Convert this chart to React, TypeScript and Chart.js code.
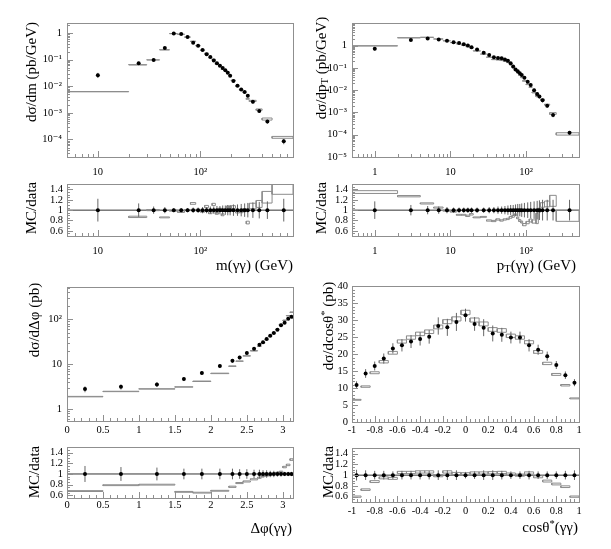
import { useEffect, useRef } from 'react';
import Chart from 'chart.js/auto';

const SERIF = '"Liberation Serif", "DejaVu Serif", serif';

// ---- m(γγ) ----
const massEdges = [5, 20, 30, 40, 50, 60, 70, 80, 90, 100, 110, 120, 130, 140, 150, 160, 170, 180, 190, 200, 220, 240, 260, 280, 300, 350, 400, 500, 800];
const massX = [10, 25, 35, 45, 55, 65, 75, 85, 95, 105, 115, 125, 135, 145, 155, 165, 175, 185, 195, 210, 230, 250, 270, 290, 325, 375, 450, 650];
const massData = [0.026, 0.073, 0.097, 0.27, 0.95, 0.92, 0.70, 0.43, 0.33, 0.23, 0.16, 0.125, 0.092, 0.072, 0.058, 0.048, 0.040, 0.032, 0.0245, 0.0156, 0.0105, 0.0075, 0.006, 0.0044, 0.0026, 0.00118, 0.00047, 0.000085];
const massDataErr = [0.22, 0.13, 0.07, 0.06, 0.04, 0.04, 0.04, 0.05, 0.05, 0.06, 0.06, 0.07, 0.07, 0.08, 0.08, 0.09, 0.09, 0.1, 0.1, 0.11, 0.11, 0.12, 0.13, 0.14, 0.15, 0.16, 0.17, 0.22];
const massMcRatio = [0.24, 0.87, 1.0, 0.86, 0.99, 0.97, 1.0, 1.13, 1.0, 0.98, 1.07, 0.95, 1.11, 0.94, 1.02, 0.91, 1.0, 1.06, 1.05, 1.06, 0.97, 0.98, 1.0, 0.76, 1.08, 1.12, 1.25, 1.42];
const massMcErr = [0.01, 0.015, 0.01, 0.01, 0.01, 0.015, 0.01, 0.015, 0.015, 0.02, 0.02, 0.02, 0.02, 0.02, 0.02, 0.02, 0.02, 0.02, 0.025, 0.025, 0.025, 0.03, 0.03, 0.035, 0.05, 0.06, 0.09, 0.08];

// ---- pT(γγ) ----
const ptEdges = [0.5, 2, 4, 6, 8, 10, 12, 14, 16, 18, 20, 25, 30, 35, 40, 45, 50, 55, 60, 65, 70, 75, 80, 85, 90, 100, 110, 120, 135, 145, 155, 175, 205, 250, 500];
const ptX = [1, 3, 5, 7, 9, 11, 13, 15, 17, 19, 22.5, 27.5, 32.5, 37.5, 42.5, 47.5, 52.5, 57.5, 62.5, 67.5, 72.5, 77.5, 82.5, 87.5, 95, 105, 115, 127.5, 140, 150, 165, 190, 227, 375];
const ptData = [0.72, 1.76, 2.08, 1.88, 1.65, 1.40, 1.31, 1.14, 1.0, 0.85, 0.67, 0.48, 0.38, 0.30, 0.28, 0.27, 0.24, 0.21, 0.16, 0.115, 0.085, 0.07, 0.058, 0.048, 0.036, 0.024, 0.017, 0.010, 0.0068, 0.0052, 0.0035, 0.0020, 0.00076, 0.000123];
const ptDataErr = [0.17, 0.1, 0.08, 0.07, 0.06, 0.05, 0.05, 0.05, 0.05, 0.05, 0.05, 0.05, 0.06, 0.06, 0.07, 0.07, 0.08, 0.09, 0.1, 0.1, 0.11, 0.12, 0.12, 0.13, 0.14, 0.15, 0.16, 0.17, 0.18, 0.19, 0.2, 0.2, 0.2, 0.2];
const ptMcRatio = [1.35, 1.27, 1.13, 1.05, 0.99, 0.97, 0.91, 0.91, 0.89, 0.92, 0.86, 0.87, 0.80, 0.79, 0.82, 0.80, 0.82, 0.83, 0.86, 0.88, 0.91, 0.85, 0.80, 0.77, 0.72, 0.76, 0.80, 0.78, 0.84, 1.0, 1.1, 1.12, 1.18, 0.89];
const ptMcErr = [0.02, 0.01, 0.01, 0.01, 0.01, 0.01, 0.01, 0.01, 0.015, 0.015, 0.01, 0.01, 0.015, 0.015, 0.015, 0.015, 0.015, 0.015, 0.02, 0.02, 0.02, 0.02, 0.025, 0.025, 0.03, 0.03, 0.035, 0.04, 0.12, 0.04, 0.04, 0.05, 0.09, 0.12];

// ---- Δφ(γγ) ----
const dphiEdges = [0, 0.5, 1.0, 1.5, 1.75, 2.0, 2.25, 2.35, 2.45, 2.55, 2.65, 2.7, 2.75, 2.8, 2.85, 2.9, 2.95, 3.0, 3.05, 3.1, 3.1416];
const dphiX = [0.25, 0.75, 1.25, 1.625, 1.875, 2.125, 2.3, 2.4, 2.5, 2.6, 2.675, 2.725, 2.775, 2.825, 2.875, 2.925, 2.975, 3.025, 3.075, 3.12];
const dphiData = [2.78, 3.12, 3.51, 4.67, 6.4, 9.1, 11.9, 14.1, 17.8, 22.1, 27.1, 31, 36.6, 43, 49.5, 58.5, 74, 84.6, 103, 114];
const dphiDataErr = [0.15, 0.13, 0.12, 0.1, 0.1, 0.1, 0.1, 0.09, 0.09, 0.08, 0.08, 0.07, 0.07, 0.06, 0.06, 0.05, 0.05, 0.04, 0.04, 0.04];
const dphiMcRatio = [0.68, 0.79, 0.80, 0.665, 0.65, 0.685, 0.76, 0.83, 0.86, 0.90, 0.93, 0.96, 0.97, 0.98, 1.0, 1.02, 1.04, 1.13, 1.17, 1.27];
const dphiMcErr = [0.012, 0.01, 0.01, 0.012, 0.012, 0.012, 0.015, 0.012, 0.012, 0.012, 0.012, 0.012, 0.012, 0.012, 0.012, 0.012, 0.012, 0.012, 0.012, 0.012];

// ---- cosθ*(γγ) ----
const cosEdges = [-1, -0.92, -0.84, -0.76, -0.68, -0.6, -0.52, -0.44, -0.36, -0.28, -0.2, -0.12, -0.04, 0.04, 0.12, 0.2, 0.28, 0.36, 0.44, 0.52, 0.6, 0.68, 0.76, 0.84, 0.92, 1];
const cosX = [-0.96, -0.88, -0.8, -0.72, -0.64, -0.56, -0.48, -0.4, -0.32, -0.24, -0.16, -0.08, 0, 0.08, 0.16, 0.24, 0.32, 0.4, 0.48, 0.56, 0.64, 0.72, 0.8, 0.88, 0.96];
const cosData = [10.9, 14.3, 16.5, 18.7, 21.7, 22.6, 23.7, 24.5, 25.1, 28.3, 27.9, 29.5, 31.5, 28.9, 27.8, 26.1, 25.7, 24.9, 24.9, 22.6, 21.3, 19.4, 16.8, 13.8, 11.6];
const cosDataErr = [0.1, 0.09, 0.08, 0.08, 0.07, 0.08, 0.08, 0.08, 0.08, 0.09, 0.09, 0.09, 0.06, 0.07, 0.09, 0.09, 0.08, 0.07, 0.07, 0.08, 0.07, 0.07, 0.07, 0.08, 0.09];
const cosMcRatio = [0.6, 0.73, 0.88, 0.95, 0.94, 1.05, 1.05, 1.06, 1.06, 0.99, 1.06, 1.03, 1.025, 1.04, 1.04, 1.045, 1.05, 1.02, 1.0, 1.04, 0.97, 0.89, 0.835, 0.785, 0.6];
const cosMcErr = [0.02, 0.02, 0.02, 0.02, 0.02, 0.02, 0.02, 0.02, 0.02, 0.02, 0.02, 0.02, 0.02, 0.02, 0.02, 0.02, 0.02, 0.02, 0.02, 0.02, 0.02, 0.02, 0.02, 0.02, 0.02];

const SUP: Record<string, string> = { '-': '⁻', '0': '⁰', '1': '¹', '2': '²', '3': '³', '4': '⁴', '5': '⁵', '6': '⁶', '7': '⁷', '8': '⁸', '9': '⁹' };

type Axis = {
  type: 'linear' | 'logarithmic';
  min: number;
  max: number;
  values: number[];
  label: (v: number) => string;
  pad: number;
};

function decadeLabel(v: number, shown: number[]) {
  const e = Math.round(Math.log10(v));
  if (Math.abs(v / Math.pow(10, e) - 1) > 1e-6 || !shown.includes(e)) return '';
  if (e === 0) return '1';
  if (e === 1) return '10';
  return '10' + String(e).split('').map((c) => SUP[c]).join('');
}

function logAxis(min: number, max: number, shown: number[], pad: number): Axis {
  const values: number[] = [];
  for (let e = Math.floor(Math.log10(min)); e <= Math.ceil(Math.log10(max)); e++) {
    for (let m = 1; m <= 9; m++) {
      const v = m * Math.pow(10, e);
      if (v >= min && v <= max) values.push(v);
    }
  }
  return { type: 'logarithmic', min, max, values, label: (v) => decadeLabel(v, shown), pad };
}

function linAxis(min: number, max: number, major: number, minor: number, pad: number): Axis {
  const values: number[] = [];
  const k0 = Math.ceil(min / minor - 1e-9);
  const k1 = Math.floor(max / minor + 1e-9);
  for (let k = k0; k <= k1; k++) values.push(+(k * minor).toFixed(6));
  const label = (v: number) => {
    const r = v / major;
    if (Math.abs(r - Math.round(r)) > 1e-6) return '';
    return String(+v.toFixed(4));
  };
  return { type: 'linear', min, max, values, label, pad };
}

// dataset helpers
function markers(xs: number[], ys: number[]) {
  return {
    data: xs.map((x, i) => ({ x, y: ys[i] })),
    showLine: false,
    pointRadius: 2,
    pointBackgroundColor: '#000',
    pointBorderWidth: 0,
    order: 0,
  };
}

function errorBars(xs: number[], ys: number[], rel: number[]) {
  const pts: any[] = [];
  xs.forEach((x, i) => {
    pts.push({ x, y: ys[i] * (1 - rel[i]) }, { x, y: ys[i] * (1 + rel[i]) }, { x, y: null });
  });
  return { data: pts, showLine: true, pointRadius: 0, borderColor: '#666', borderWidth: 1, order: 1 };
}

function mcBoxes(edges: number[], vals: number[], rel: number[]) {
  const pts: any[] = [];
  vals.forEach((v, i) => {
    const lo = edges[i];
    const hi = edges[i + 1];
    const y0 = v * (1 - rel[i]);
    const y1 = v * (1 + rel[i]);
    pts.push({ x: lo, y: y0 }, { x: hi, y: y0 }, { x: hi, y: y1 }, { x: lo, y: y1 }, { x: lo, y: y0 }, { x: lo, y: null });
  });
  return { data: pts, showLine: true, pointRadius: 0, borderColor: '#8c8c8c', borderWidth: 1, order: 2 };
}

function mainSets(edges: number[], xs: number[], data: number[], err: number[], ratio: number[], mcErr: number[]) {
  const mc = ratio.map((r, i) => r * data[i]);
  return [markers(xs, data), errorBars(xs, data, err), mcBoxes(edges, mc, mcErr)];
}

function ratioSets(edges: number[], xs: number[], err: number[], ratio: number[], mcErr: number[]) {
  const ones = xs.map(() => 1);
  return [
    markers(xs, ones),
    errorBars(xs, ones, err),
    mcBoxes(edges, ratio, mcErr),
    {
      data: [{ x: edges[0], y: 1 }, { x: edges[edges.length - 1], y: 1 }],
      showLine: true,
      pointRadius: 0,
      borderColor: '#333',
      borderWidth: 1,
      order: 3,
    },
  ];
}

type Spec = { frame: [number, number, number, number]; x: Axis; y: Axis; datasets: any[] };

const AX_W = 50;
const AX_H = 26;
const PAD_T = 8;
const PAD_R = 10;

// ROOT-like frame with ticks pointing inwards
const framePlugin = {
  id: 'rootFrame',
  afterDatasetsDraw(chart: any) {
    const { ctx, chartArea: a, scales } = chart;
    ctx.save();
    ctx.strokeStyle = '#8f8f8f';
    ctx.lineWidth = 1;
    ctx.strokeRect(Math.round(a.left) + 0.5, Math.round(a.top) + 0.5, Math.round(a.right - a.left), Math.round(a.bottom - a.top));
    ctx.beginPath();
    for (const t of scales.x.ticks) {
      const p = Math.round(scales.x.getPixelForValue(t.value)) + 0.5;
      const len = t.label ? 6 : 3;
      ctx.moveTo(p, a.bottom);
      ctx.lineTo(p, a.bottom - len);
    }
    for (const t of scales.y.ticks) {
      const p = Math.round(scales.y.getPixelForValue(t.value)) + 0.5;
      const len = t.label ? 6 : 3;
      ctx.moveTo(a.left, p);
      ctx.lineTo(a.left + len, p);
    }
    ctx.stroke();
    ctx.restore();
  },
};

function Panel({ spec }: { spec: Spec }) {
  const ref = useRef<HTMLCanvasElement>(null);
  const [L, T, R, B] = spec.frame;
  const w = R - L + AX_W + PAD_R;
  const h = B - T + PAD_T + AX_H;

  useEffect(() => {
    if (!ref.current) return;
    const scale = (a: Axis, horizontal: boolean) => ({
      type: a.type,
      min: a.min,
      max: a.max,
      bounds: 'data',
      grid: { display: false, drawTicks: false },
      border: { display: false },
      ticks: {
        autoSkip: false,
        maxRotation: 0,
        minRotation: 0,
        padding: a.pad,
        color: '#000',
        font: { family: SERIF, size: 10.5 },
        callback: (v: any) => a.label(Number(v)),
      },
      afterBuildTicks: (s: any) => {
        s.ticks = a.values.map((value) => ({ value }));
      },
      afterFit: (s: any) => {
        if (horizontal) s.height = AX_H;
        else s.width = AX_W;
      },
    });
    const chart = new Chart(ref.current, {
      type: 'scatter',
      data: { datasets: spec.datasets },
      options: {
        animation: false,
        responsive: false,
        events: [],
        layout: { padding: { top: PAD_T, right: PAD_R, left: 0, bottom: 0 } },
        plugins: { legend: { display: false }, tooltip: { enabled: false } },
        scales: { x: scale(spec.x, true), y: scale(spec.y, false) } as any,
      },
      plugins: [framePlugin],
    } as any);
    return () => chart.destroy();
  }, [spec]);

  return (
    <canvas
      ref={ref}
      width={w}
      height={h}
      style={{ position: 'absolute', left: L - AX_W, top: T - PAD_T, width: w, height: h }}
    />
  );
}

const ratioY = linAxis(0.5, 1.5, 0.2, 0.05, 4);
const massAxis = logAxis(5, 800, [1, 2], 9);
const ptAxis = logAxis(0.5, 500, [0, 1, 2], 9);

const panels: Spec[] = [
  {
    frame: [67, 20, 293, 157],
    x: massAxis,
    y: logAxis(2.2e-5, 2.3, [0, -1, -2, -3, -4], 5),
    datasets: mainSets(massEdges, massX, massData, massDataErr, massMcRatio, massMcErr),
  },
  {
    frame: [67, 182, 293, 236],
    x: massAxis,
    y: ratioY,
    datasets: ratioSets(massEdges, massX, massDataErr, massMcRatio, massMcErr),
  },
  {
    frame: [352, 20, 579, 157],
    x: ptAxis,
    y: logAxis(1e-5, 10, [0, -1, -2, -3, -4, -5], 5),
    datasets: mainSets(ptEdges, ptX, ptData, ptDataErr, ptMcRatio, ptMcErr),
  },
  {
    frame: [352, 182, 579, 236],
    x: ptAxis,
    y: ratioY,
    datasets: ratioSets(ptEdges, ptX, ptDataErr, ptMcRatio, ptMcErr),
  },
  {
    frame: [67, 284, 293, 421],
    x: linAxis(0, 3.1416, 0.5, 0.1, 3),
    y: logAxis(0.54, 520, [0, 1, 2], 5),
    datasets: mainSets(dphiEdges, dphiX, dphiData, dphiDataErr, dphiMcRatio, dphiMcErr),
  },
  {
    frame: [67, 445, 293, 498],
    x: linAxis(0, 3.1416, 0.5, 0.1, 1),
    y: linAxis(0.55, 1.5, 0.2, 0.05, 4),
    datasets: ratioSets(dphiEdges, dphiX, dphiDataErr, dphiMcRatio, dphiMcErr),
  },
  {
    frame: [352, 284, 579, 422],
    x: linAxis(-1, 1, 0.2, 0.04, 2),
    y: linAxis(0, 40, 5, 1, 4),
    datasets: mainSets(cosEdges, cosX, cosData, cosDataErr, cosMcRatio, cosMcErr),
  },
  {
    frame: [352, 446, 579, 502],
    x: linAxis(-1, 1, 0.2, 0.04, 3),
    y: ratioY,
    datasets: ratioSets(cosEdges, cosX, cosDataErr, cosMcRatio, cosMcErr),
  },
];

const titleFont = `15px ${SERIF}`;

function YTitle({ cx, cy, children }: { cx: number; cy: number; children: any }) {
  return (
    <div
      style={{
        position: 'absolute',
        left: cx,
        top: cy,
        transform: 'translate(-50%, -50%) rotate(-90deg)',
        whiteSpace: 'nowrap',
        font: titleFont,
        lineHeight: 1,
      }}
    >
      {children}
    </div>
  );
}

function XTitle({ right, cy, children }: { right: number; cy: number; children: any }) {
  return (
    <div
      style={{
        position: 'absolute',
        right: 611 - right,
        top: cy,
        transform: 'translateY(-50%)',
        whiteSpace: 'nowrap',
        font: titleFont,
        lineHeight: 1,
      }}
    >
      {children}
    </div>
  );
}

const sub = { fontSize: '0.7em', verticalAlign: '-0.25em', lineHeight: 0 };
const sup = { fontSize: '0.7em', verticalAlign: '0.45em', lineHeight: 0 };

export default function App() {
  return (
    <div style={{ position: 'absolute', left: 0, top: 0, width: 611, height: 549, background: '#fff', overflow: 'hidden' }}>
      {panels.map((p, i) => (
        <Panel key={i} spec={p} />
      ))}
      <YTitle cx={31} cy={72}>dσ/dm (pb/GeV)</YTitle>
      <YTitle cx={31} cy={208}>MC/data</YTitle>
      <YTitle cx={321} cy={68}>
        dσ/dp<span style={sub}>T</span> (pb/GeV)
      </YTitle>
      <YTitle cx={321} cy={208}>MC/data</YTitle>
      <YTitle cx={34} cy={320}>dσ/dΔφ (pb)</YTitle>
      <YTitle cx={34} cy={472}>MC/data</YTitle>
      <YTitle cx={328} cy={326}>
        dσ/dcosθ<span style={sup}>*</span> (pb)
      </YTitle>
      <YTitle cx={328} cy={472}>MC/data</YTitle>
      <XTitle right={293} cy={265}>m(γγ) (GeV)</XTitle>
      <XTitle right={576} cy={265}>
        p<span style={sub}>T</span>(γγ) (GeV)
      </XTitle>
      <XTitle right={292} cy={528}>Δφ(γγ)</XTitle>
      <XTitle right={578} cy={527}>
        cosθ<span style={sup}>*</span>(γγ)
      </XTitle>
    </div>
  );
}
